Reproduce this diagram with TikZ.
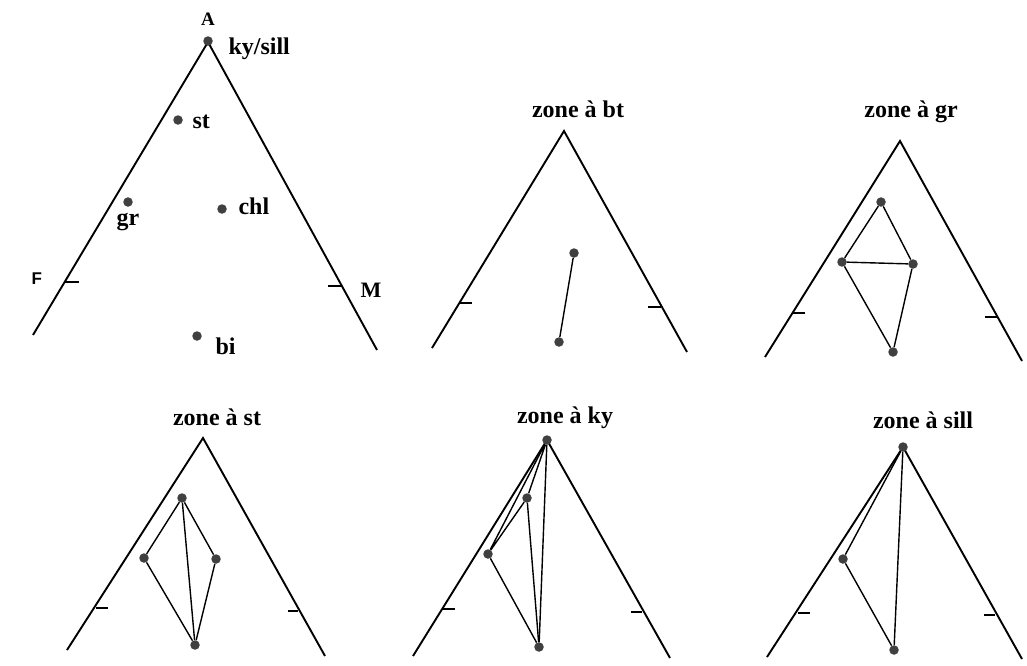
\documentclass[tikz,border=0pt]{standalone}
\usepackage{fontspec}
\setmainfont{Liberation Serif}
\newfontfamily\sansf{Liberation Sans}
\usetikzlibrary{positioning}

\begin{document}
\begin{tikzpicture}[
    x=1pt, y=-1pt,
    side/.style={line width=1.9pt, line join=miter},
    tie/.style={line width=1.4pt},
    tickmark/.style={line width=1.8pt},
    phase/.style={circle, fill=black!75, inner sep=0pt, minimum size=9.5pt},
    ttl/.style={font=\fontsize{24}{28}\selectfont\bfseries, anchor=base},
    lab/.style={font=\fontsize{24}{28}\selectfont\bfseries, anchor=base west},
  ]
  \useasboundingbox (0,0) rectangle (1027,665);
  % ---- AFM projection with all phases
  \coordinate (a1) at (208,42);
  \coordinate (f1) at (33,335);
  \coordinate (m1) at (377,350);
  \draw[side] (f1) -- (a1) -- (m1);
  \coordinate (tf1) at (65,282);
  \coordinate (tm1) at (341,286);
  \draw[tickmark] (tf1) -- ++(14,0);
  \draw[tickmark] (tm1) -- ++(-13,0);
  \node[phase] (ky1) at (208,41) {};
  \node[phase] (st1) at (178,120) {};
  \node[phase] (gr1) at (128,202) {};
  \node[phase] (chl1) at (222,209) {};
  \node[phase] (bi1) at (197,336) {};
  \node[lab, anchor=base, font=\fontsize{19}{22}\selectfont\bfseries] (la) at (208,25) {A};
  \node[lab] (lky) at (225,54) {ky/sill};
  \node[lab] (lst) at (189,128) {st};
  \node[lab] (lchl) at (235,214) {chl};
  \node[lab, anchor=base] (lgr) at (128,225) {gr};
  \node[lab] (lbi) at (212,354) {bi};
  \node[anchor=base west, font=\sansf\bfseries\fontsize{17}{20}\selectfont] (lf) at (28,284) {F};
  \node[lab, font=\fontsize{22}{26}\selectfont\bfseries] (lm) at (357,297) {M};
  % ---- zone a bt
  \coordinate (a2) at (564,131);
  \coordinate (f2) at (432,348);
  \coordinate (m2) at (687,352);
  \draw[side] (f2) -- (a2) -- (m2);
  \coordinate (tf2) at (460,303);
  \coordinate (tm2) at (661,307);
  \draw[tickmark] (tf2) -- ++(12,0);
  \draw[tickmark] (tm2) -- ++(-13,0);
  \node[phase] (chl2) at (574,253) {};
  \node[phase] (bi2) at (559,342) {};
  \draw[tie] (chl2) -- (bi2);
  \node[ttl] (t2) at (578,117) {zone à bt};
  % ---- zone a gr
  \coordinate (a3) at (900,141);
  \coordinate (f3) at (765,357);
  \coordinate (m3) at (1022,361);
  \draw[side] (f3) -- (a3) -- (m3);
  \coordinate (tf3) at (793,313);
  \coordinate (tm3) at (997,317);
  \draw[tickmark] (tf3) -- ++(12,0);
  \draw[tickmark] (tm3) -- ++(-12,0);
  \node[phase] (st3) at (881,202) {};
  \node[phase] (gr3) at (842,262) {};
  \node[phase] (chl3) at (913,264) {};
  \node[phase] (bi3) at (893,352) {};
  \draw[tie] (st3) -- (gr3) -- (chl3) -- (st3);
  \draw[tie] (gr3) -- (bi3) -- (chl3);
  \node[ttl] (t3) at (911,117) {zone à gr};
  % ---- zone a st
  \coordinate (a4) at (203,438);
  \coordinate (f4) at (67,650);
  \coordinate (m4) at (325,656);
  \draw[side] (f4) -- (a4) -- (m4);
  \coordinate (tf4) at (96,608);
  \coordinate (tm4) at (298,611);
  \draw[tickmark] (tf4) -- ++(12,0);
  \draw[tickmark] (tm4) -- ++(-10,0);
  \node[phase] (st4) at (182,498) {};
  \node[phase] (gr4) at (144,558) {};
  \node[phase] (chl4) at (216,559) {};
  \node[phase] (bi4) at (195,645) {};
  \draw[tie] (gr4) -- (st4) -- (chl4);
  \draw[tie] (gr4) -- (bi4) -- (chl4);
  \draw[tie] (st4) -- (bi4);
  \node[ttl] (t4) at (217,425) {zone à st};
  % ---- zone a ky
  \coordinate (a5) at (547,440);
  \coordinate (f5) at (413,656);
  \coordinate (m5) at (670,658);
  \draw[side] (f5) -- (a5) -- (m5);
  \coordinate (tf5) at (443,609);
  \coordinate (tm5) at (642,612);
  \draw[tickmark] (tf5) -- ++(12,0);
  \draw[tickmark] (tm5) -- ++(-11,0);
  \node[phase] (ky5) at (547,440) {};
  \node[phase] (st5) at (527,498) {};
  \node[phase] (gr5) at (488,554) {};
  \node[phase] (bi5) at (539,647) {};
  \draw[tie] (ky5) -- (st5) -- (gr5) -- (ky5);
  \draw[tie] (ky5) -- (bi5);
  \draw[tie] (st5) -- (bi5) -- (gr5);
  \node[ttl] (t5) at (565,423) {zone à ky};
  % ---- zone a sill
  \coordinate (a6) at (903,447);
  \coordinate (f6) at (767,657);
  \coordinate (m6) at (1022,659);
  \draw[side] (f6) -- (a6) -- (m6);
  \coordinate (tf6) at (798,613);
  \coordinate (tm6) at (995,615);
  \draw[tickmark] (tf6) -- ++(12,0);
  \draw[tickmark] (tm6) -- ++(-11,0);
  \node[phase] (sill6) at (903,447) {};
  \node[phase] (gr6) at (843,559) {};
  \node[phase] (bi6) at (894,650) {};
  \draw[tie] (sill6) -- (gr6) -- (bi6) -- (sill6);
  \node[ttl] (t6) at (923,428) {zone à sill};
\end{tikzpicture}
\end{document}
